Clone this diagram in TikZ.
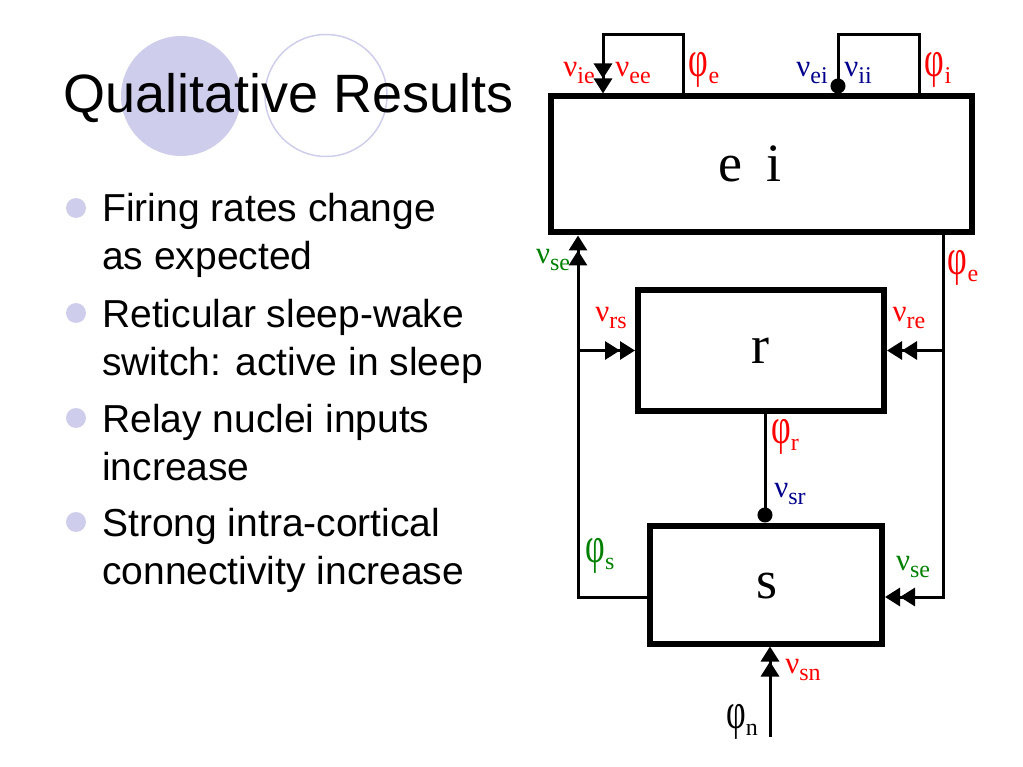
\documentclass[tikz,border=0pt]{standalone}
\usepackage{fontspec}
\usepackage{graphicx}
\setmainfont{Liberation Serif}
\setsansfont{Liberation Sans}
\usetikzlibrary{arrows.meta,positioning}
\definecolor{lav}{RGB}{206,206,236}
\definecolor{exc}{RGB}{255,0,0}
\definecolor{inh}{RGB}{0,0,140}
\definecolor{rel}{RGB}{0,128,0}
\def\low#1{\raisebox{-7pt}{\fontsize{24pt}{24pt}\selectfont #1}}
\def\nv#1{ν\low{#1}}
\def\ph#1{\scalebox{1.1}[1.65]{φ}\low{#1}}

\begin{document}
\begin{tikzpicture}[excite/.style={-{Triangle[length=15pt,width=18pt]Triangle[length=15pt,width=18pt]}}, inhib/.style={-{Circle[length=15pt]}}, pop/.style={draw, rectangle, line width=6pt, inner sep=0pt}, poplabel/.style={inner sep=0pt, font=\fontsize{54pt}{54pt}\selectfont}, wire/.style={line width=3pt}, lab/.style={inner sep=0pt, font=\fontsize{31pt}{31pt}\selectfont}, bul/.style={circle, fill=lav, minimum size=20pt, inner sep=0pt}, item/.style={anchor=base west, align=left, inner sep=0pt, font=\sffamily\fontsize{39pt}{48pt}\selectfont}]
\useasboundingbox (0pt,0pt) rectangle (1023pt,-767pt);
% title
\fill[lav] (181pt,-96pt) circle (60pt);
\draw[lav, line width=1.5pt] (326pt,-95.5pt) circle (61pt);
\draw (63pt,-113pt)node[anchor=base west, inner sep=0pt, font=\sffamily\fontsize{54pt}{54pt}\selectfont](title){Qualitative Results};
% bullets
\draw (76pt,-208pt)node[bul](b1){};
\draw (76pt,-313pt)node[bul](b2){};
\draw (76pt,-418pt)node[bul](b3){};
\draw (76pt,-522pt)node[bul](b4){};
\draw (102pt,-270pt)node[item](t1){Firing rates change\\as expected};
\draw (102pt,-375pt)node[item](t2){Reticular sleep-wake\\switch: active in sleep};
\draw (102pt,-480pt)node[item](t3){Relay nuclei inputs\\increase};
\draw (102pt,-584pt)node[item](t4){Strong intra-cortical\\connectivity increase};
% populations
\draw (761.5pt,-164.5pt)node[pop, minimum width=421pt, minimum height=136pt](ei){};
\draw (761pt,-350.5pt)node[pop, minimum width=246pt, minimum height=120pt](r){};
\draw (766pt,-584.5pt)node[pop, minimum width=232pt, minimum height=118pt](s){};
\draw (750pt,-182pt)node[poplabel, anchor=base](eit){e\hspace{0.45em}i};
\draw (760pt,-363pt)node[poplabel, anchor=base](rt){r};
\draw (767pt,-598pt)node[poplabel, anchor=base](st){s};
% corners
\coordinate (pe) at (683pt,-35pt);
\coordinate (ie) at (603pt,-35pt);
\coordinate (pi) at (919pt,-35pt);
\coordinate (ii) at (838pt,-35pt);
\coordinate (bl) at (578pt,-597pt);
\coordinate (br) at (943pt,-597pt);
\coordinate (rs) at (765pt,-450pt);
\coordinate (n) at (770pt,-737pt);
% connections
\draw[wire, excite] (ei.north -| pe) -- (pe) -- (ie) -- (ei.north -| ie);
\draw[wire, inhib] (ei.north -| pi) -- (pi) -- (ii) -- (ei.north -| ii);
\draw[wire, excite] (s.west |- bl) -- (bl) -- (ei.south -| bl);
\draw[wire, excite] (r.west -| bl) -- (r.west);
\draw[wire, excite] (ei.south -| br) -- (br) -- (s.east |- br);
\draw[wire, excite] (r.east -| br) -- (r.east);
\draw[wire, inhib] (r.south -| rs) -- (s.north -| rs);
\draw[wire, excite] (n) -- (s.south -| n);
% labels
\draw (579pt,-73pt)node[lab, exc](vie){\nv{ie}};
\draw (633pt,-73pt)node[lab, exc](vee){\nv{ee}};
\draw (704pt,-70pt)node[lab, exc](pe1){\ph{e}};
\draw (812pt,-73pt)node[lab, inh](vei){\nv{ei}};
\draw (858pt,-73pt)node[lab, inh](vii){\nv{ii}};
\draw (938pt,-70pt)node[lab, exc](pi1){\ph{i}};
\draw (553pt,-260pt)node[lab, rel](vse1){\nv{se}};
\draw (963pt,-268pt)node[lab, exc](pe2){\ph{e}};
\draw (611pt,-318pt)node[lab, exc](vrs){\nv{rs}};
\draw (909pt,-318pt)node[lab, exc](vre){\nv{re}};
\draw (785pt,-437pt)node[lab, exc](pr){\ph{r}};
\draw (790pt,-494pt)node[lab, inh](vsr){\nv{sr}};
\draw (600pt,-556pt)node[lab, rel](ps){\ph{s}};
\draw (913pt,-567pt)node[lab, rel](vse2){\nv{se}};
\draw (803pt,-670pt)node[lab, exc](vsn){\nv{sn}};
\draw (742pt,-722pt)node[lab](pn){\ph{n}};
\end{tikzpicture}
\end{document}
